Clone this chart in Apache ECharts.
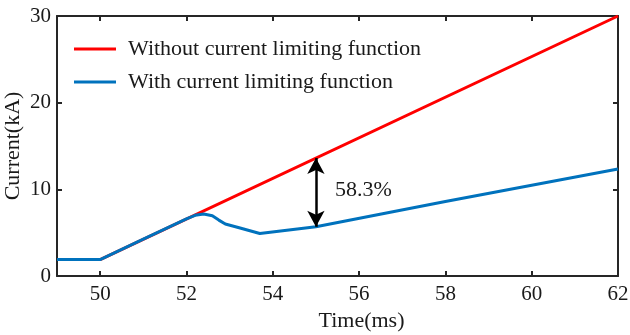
<!DOCTYPE html>
<html>
<head>
<meta charset="utf-8">
<script src="https://cdn.jsdelivr.net/npm/echarts@6/dist/echarts.min.js"></script>
<style>
  html, body { margin: 0; padding: 0; background: #fff; }
  #chart { width: 630px; height: 335px; }
</style>
</head>
<body>
<div id="chart"></div>
<script>
// Fault current with and without the current limiting function
const seriesNames = ['Without current limiting function', 'With current limiting function'];

// [time (ms), current (kA)]
const withoutLimiting = [
  [49, 1.9], [50, 1.9], [62, 30]
];
const withLimiting = [
  [49, 1.9], [50, 1.9], [51, 4.25], [52, 6.6], [52.2, 7.0], [52.4, 7.15],
  [52.6, 6.95], [52.75, 6.45], [52.9, 6.0], [53.2, 5.6], [53.7, 4.9],
  [55, 5.68], [58, 8.6], [62, 12.34]
];

// Reduction marker at t = 55 ms
const markTime = 55;
const markUpper = 13.61;
const markLower = 5.68;
const markText = '58.3%';
const markTextPos = [56.1, 9.9];

const xTicks = [50, 52, 54, 56, 58, 60, 62];
const xRange = [49, 62];
const yRange = [0, 30];
const yStep = 10;

const font = 'Liberation Serif, Times New Roman, serif';
const axisColor = '#262626';
const textColor = '#1a1a1a';

const chart = echarts.init(document.getElementById('chart'), null, { renderer: 'canvas' });

const tickStyle = { show: true, inside: true, length: 5, lineStyle: { color: axisColor, width: 2 } };

chart.setOption({
  animation: false,
  backgroundColor: '#fff',
  textStyle: { fontFamily: font },
  grid: { left: 57, right: 12, top: 16, bottom: 59, containLabel: false, outerBoundsMode: 'none' },
  legend: {
    orient: 'vertical',
    left: 74,
    top: 38,
    padding: 0,
    itemGap: 11,
    itemWidth: 42,
    itemHeight: 3,
    icon: 'rect',
    textStyle: { fontFamily: font, fontSize: 22, color: textColor, padding: [0, 0, 0, 7] },
    data: seriesNames
  },
  xAxis: [{
    type: 'value',
    min: xRange[0],
    max: xRange[1],
    name: 'Time(ms)',
    nameLocation: 'middle',
    nameGap: 34,
    nameMoveOverlap: false,
    nameTextStyle: { fontFamily: font, fontSize: 22, color: textColor, padding: [0, 0, 0, 48] },
    axisLine: { show: true, onZero: false, lineStyle: { color: axisColor, width: 2 } },
    axisTick: Object.assign({ customValues: xTicks }, tickStyle),
    axisLabel: { customValues: xTicks, fontFamily: font, fontSize: 21, color: textColor, margin: 8 },
    splitLine: { show: false }
  }, {
    type: 'value',
    position: 'top',
    min: xRange[0],
    max: xRange[1],
    axisLine: { show: true, onZero: false, lineStyle: { color: axisColor, width: 2 } },
    axisTick: Object.assign({ customValues: xTicks }, tickStyle),
    axisLabel: { show: false },
    splitLine: { show: false }
  }],
  yAxis: [{
    type: 'value',
    min: yRange[0],
    max: yRange[1],
    interval: yStep,
    name: 'Current(kA)',
    nameLocation: 'middle',
    nameGap: 33,
    nameMoveOverlap: false,
    nameTextStyle: { fontFamily: font, fontSize: 22, color: textColor },
    axisLine: { show: true, onZero: false, lineStyle: { color: axisColor, width: 2 } },
    axisTick: tickStyle,
    axisLabel: { fontFamily: font, fontSize: 21, color: textColor, margin: 6 },
    splitLine: { show: false }
  }, {
    type: 'value',
    position: 'right',
    min: yRange[0],
    max: yRange[1],
    interval: yStep,
    axisLine: { show: true, onZero: false, lineStyle: { color: axisColor, width: 2 } },
    axisTick: tickStyle,
    axisLabel: { show: false },
    splitLine: { show: false }
  }],
  series: [{
    name: seriesNames[0],
    type: 'line',
    data: withoutLimiting,
    showSymbol: false,
    symbol: 'none',
    color: '#ff0000',
    lineStyle: { color: '#ff0000', width: 3 },
    z: 2
  }, {
    name: seriesNames[1],
    type: 'line',
    data: withLimiting,
    showSymbol: false,
    symbol: 'none',
    color: '#0072bd',
    lineStyle: { color: '#0072bd', width: 3 },
    z: 3,
    markLine: {
      silent: true,
      symbol: ['arrow', 'arrow'],
      symbolSize: [13, 16],
      lineStyle: { color: '#000', width: 2.5, type: 'solid' },
      label: { show: false },
      data: [[{ coord: [markTime, markUpper] }, { coord: [markTime, markLower] }]]
    },
    markPoint: {
      silent: true,
      symbol: 'circle',
      symbolSize: 0,
      label: {
        show: true,
        formatter: markText,
        fontFamily: font,
        fontSize: 22,
        color: textColor,
        position: 'inside'
      },
      data: [{ coord: markTextPos }]
    }
  }]
});
</script>
</body>
</html>
